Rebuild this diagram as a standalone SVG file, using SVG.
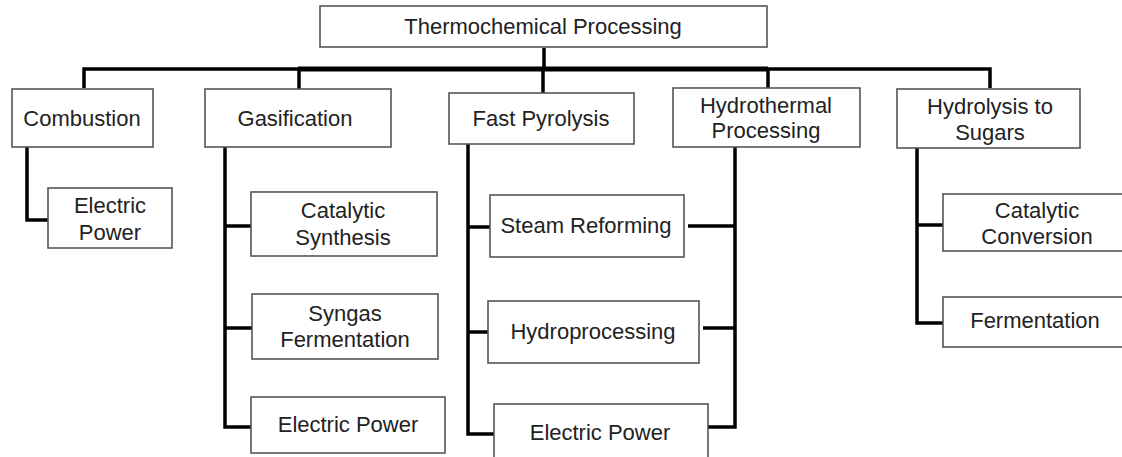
<svg xmlns="http://www.w3.org/2000/svg" width="1122" height="457" viewBox="0 0 1122 457">
<style>
.box{fill:#fff;stroke:#555;stroke-width:1.6}
.t{font-family:"Liberation Sans",Arial,sans-serif;font-size:22px;fill:#222;text-anchor:middle}
.c{fill:none;stroke:#000;stroke-width:3.5;stroke-linejoin:miter}
.ck{fill:none;stroke:#000;stroke-width:5}
</style>
<rect width="1122" height="457" fill="#fff"/>
<g id="connectors">
<path class="c" d="M84 88 V69 H298"/>
<path class="ck" d="M298 69 H768"/>
<path class="c" d="M768 69 H990 V88"/>
<path class="c" d="M544 48 V69"/>
<path class="c" d="M299 69 V89"/>
<path class="c" d="M543 69 V93"/>
<path class="c" d="M768 69 V88"/>
<path class="c" d="M27 147 V220 H48"/>
<path class="c" d="M225 147 V427 H251"/>
<path class="c" d="M225 226 H251 M225 328 H252"/>
<path class="c" d="M468 144 V434 H494"/>
<path class="c" d="M468 227 H490 M468 332 H488"/>
<path class="c" d="M735 147 V427 H708"/>
<path class="c" d="M688 226 H735 M703 328 H735"/>
<path class="c" d="M917 148 V323 H943"/>
<path class="c" d="M917 225 H943"/>
</g>
<g id="n-thermo"><rect class="box" x="320" y="6" width="447" height="41"/><text class="t" x="543" y="34">Thermochemical Processing</text></g>
<g id="n-combustion"><rect class="box" x="12" y="89" width="141" height="58"/><text class="t" x="82" y="126">Combustion</text></g>
<g id="n-gasification"><rect class="box" x="205" y="89" width="186" height="58"/><text class="t" x="295" y="126">Gasification</text></g>
<g id="n-pyrolysis"><rect class="box" x="449" y="93" width="185" height="51"/><text class="t" x="541" y="126">Fast Pyrolysis</text></g>
<g id="n-hydrothermal"><rect class="box" x="673" y="88" width="187" height="59"/><text class="t" x="766" y="113">Hydrothermal</text><text class="t" x="766" y="138">Processing</text></g>
<g id="n-hydrolysis"><rect class="box" x="897" y="89" width="183" height="59"/><text class="t" x="990" y="114">Hydrolysis to</text><text class="t" x="990" y="140">Sugars</text></g>
<g id="n-comb-power"><rect class="box" x="48" y="188" width="124" height="60"/><text class="t" x="110" y="213">Electric</text><text class="t" x="110" y="240">Power</text></g>
<g id="n-cat-synth"><rect class="box" x="251" y="192" width="186" height="64"/><text class="t" x="343" y="218">Catalytic</text><text class="t" x="343" y="245">Synthesis</text></g>
<g id="n-syngas"><rect class="box" x="252" y="294" width="186" height="65"/><text class="t" x="345" y="321">Syngas</text><text class="t" x="345" y="347">Fermentation</text></g>
<g id="n-gas-power"><rect class="box" x="251" y="397" width="194" height="56"/><text class="t" x="348" y="432">Electric Power</text></g>
<g id="n-steam"><rect class="box" x="490" y="195" width="194" height="62"/><text class="t" x="586" y="233">Steam Reforming</text></g>
<g id="n-hydroproc"><rect class="box" x="488" y="301" width="211" height="62"/><text class="t" x="593" y="339">Hydroprocessing</text></g>
<g id="n-pyro-power"><rect class="box" x="494" y="404" width="214" height="60"/><text class="t" x="600" y="440">Electric Power</text></g>
<g id="n-cat-conv"><rect class="box" x="943" y="194" width="190" height="57"/><text class="t" x="1037" y="218">Catalytic</text><text class="t" x="1037" y="244">Conversion</text></g>
<g id="n-ferment"><rect class="box" x="943" y="297" width="190" height="50"/><text class="t" x="1035" y="328">Fermentation</text></g>
</svg>
